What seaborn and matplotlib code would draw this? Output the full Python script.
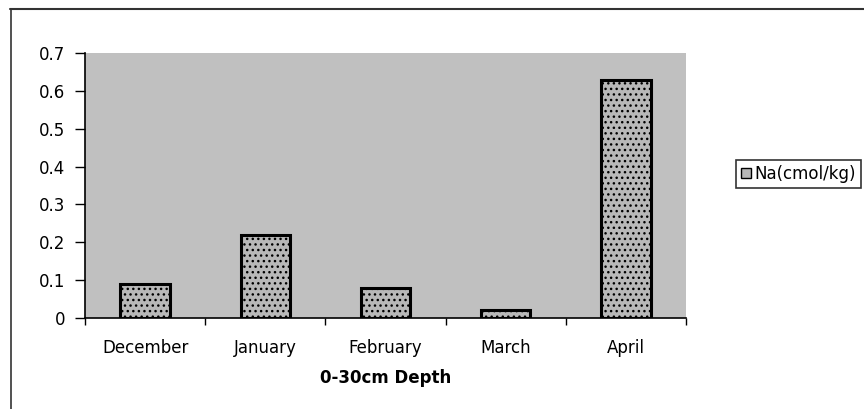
import matplotlib
matplotlib.use("Agg")
import matplotlib.pyplot as plt
from matplotlib.patches import Patch
from matplotlib.lines import Line2D
from matplotlib.ticker import FixedLocator
import seaborn as sns
import pandas as pd

months = ["December", "January", "February", "March", "April"]
sodium = [0.09, 0.22, 0.08, 0.02, 0.63]
y_ticks = [0, 0.1, 0.2, 0.3, 0.4, 0.5, 0.6, 0.7]
y_tick_labels = ["0", "0.1", "0.2", "0.3", "0.4", "0.5", "0.6", "0.7"]
series_name = "Na(cmol/kg)"
x_title = "0-30cm Depth"

sns.set_style("white")
plt.rcParams["font.family"] = ["DejaVu Sans"]
plt.rcParams["hatch.linewidth"] = 1.0
plt.rcParams["text.color"] = "black"
plt.rcParams["axes.labelcolor"] = "black"
plt.rcParams["xtick.color"] = "black"
plt.rcParams["ytick.color"] = "black"

df = pd.DataFrame({"month": months, "value": sodium})

fig = plt.figure(figsize=(8.64, 4.09), dpi=100)
ax = fig.add_axes([85 / 864, 1 - 318 / 409, (686 - 85) / 864, (318 - 53) / 409])
ax.set_facecolor("#c0c0c0")

sns.barplot(data=df, x="month", y="value", order=months, width=0.41,
            color="#b8b8b8", saturation=1, edgecolor="black", linewidth=2.2,
            ax=ax)

for bar in ax.patches:
    bar.set_hatch("...")
    if hasattr(bar, "set_hatchcolor"):
        bar.set_hatchcolor("#8e8e8e")

ax.set_xlim(-0.5, len(months) - 0.5)
ax.set_ylim(0, 0.7)
ax.set_yticks(y_ticks)
ax.set_yticklabels(y_tick_labels, fontsize=12)
ax.tick_params(axis="y", direction="out", length=7, width=1, color="black",
               labelcolor="black", left=True, pad=7)

# category labels centred, tick marks between categories
ax.set_xticks(range(len(months)))
ax.set_xticklabels(months, fontsize=12)
ax.tick_params(axis="x", which="major", length=0, pad=15, labelcolor="black")
ax.xaxis.set_minor_locator(FixedLocator([i - 0.5 for i in range(len(months) + 1)]))
ax.tick_params(axis="x", which="minor", direction="out", length=5, width=1,
               color="black", bottom=True)

ax.set_xlabel(x_title, fontsize=12, fontweight="bold", labelpad=9, color="black")
ax.set_ylabel("")

for side in ["top", "right"]:
    ax.spines[side].set_visible(False)
for side in ["left", "bottom"]:
    ax.spines[side].set_color("black")
    ax.spines[side].set_linewidth(1.2)

handle = Patch(facecolor="#b8b8b8", edgecolor="black", linewidth=1)
leg = fig.legend([handle], [series_name], loc="upper left",
                 bbox_to_anchor=(736 / 864, 1 - 160 / 409), fontsize=12,
                 frameon=True, fancybox=False, borderpad=0.3,
                 handlelength=0.6, handleheight=0.6, handletextpad=0.2,
                 borderaxespad=0, labelcolor="black")
leg.get_frame().set_edgecolor("black")
leg.get_frame().set_linewidth(1.2)

# outer chart frame (top and left edges)
fig.add_artist(Line2D([10 / 864, 1], [1 - 9 / 409, 1 - 9 / 409],
                      transform=fig.transFigure, color="#333333", lw=1.5))
fig.add_artist(Line2D([11 / 864, 11 / 864], [0, 1 - 9 / 409],
                      transform=fig.transFigure, color="#333333", lw=1.2))

fig.savefig("out.png", dpi=100, facecolor="white")
